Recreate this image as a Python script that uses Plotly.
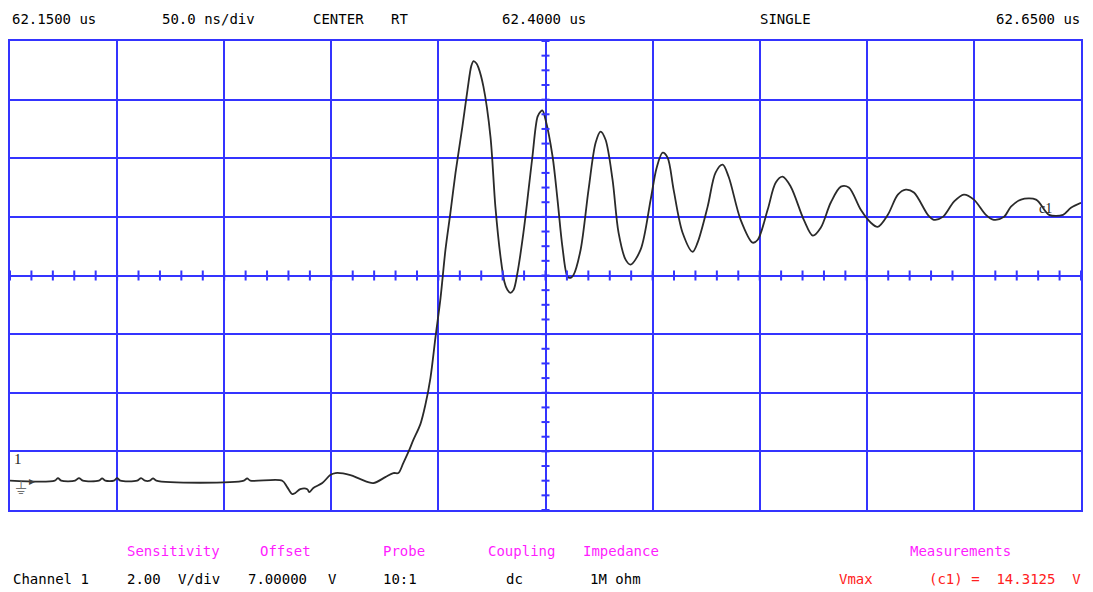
import plotly.graph_objects as go

# Acquisition settings
start_us = 62.15          # left edge of the record
ns_per_div = 50.0
n_xdiv = 10
volts_per_div = 2.0
offset_v = 7.0            # voltage at the centre graticule line
n_ydiv = 8

# Captured waveform, channel 1 (time in ns from the left edge, volts)
time_ns = [
    0.0, 20.9, 22.4, 23.9, 30.4, 32.2, 34.0, 41.5, 43.0, 44.5, 48.5, 50.0, 51.5,
    59.4, 61.2, 63.0, 65.3, 66.8, 68.3, 109.2, 110.7, 112.2, 127.1,
    129.4, 131.8, 133.2, 135.5, 138.8, 139.7, 141.6, 145.8, 149.5, 151.9, 158.9,
    163.6, 169.6, 175.2, 179.0, 181.3, 183.6, 186.0, 188.3, 191.6, 193.9, 196.3,
    198.6, 201.0, 203.3, 205.6, 208.0, 211.2, 213.6, 215.4, 216.4, 217.8, 218.7,
    221.0, 224.3, 226.6, 229.0, 230.8, 232.2, 233.6, 235.1, 236.9, 239.7, 242.1,
    243.9, 246.3, 247.7, 248.6, 250.0, 253.3, 255.6, 257.9, 260.3, 261.7, 263.1,
    266.4, 270.1, 273.4, 275.7, 278.0, 281.3, 284.1, 287.4, 289.7, 294.4, 299.1,
    301.9, 304.7, 307.0, 309.8, 314.0, 318.7, 321.0, 325.7, 329.4, 332.7, 335.5,
    341.1, 346.7, 349.1, 353.7, 357.5, 360.7, 364.5, 370.6, 374.8, 378.5, 383.2,
    387.9, 391.6, 397.2, 401.9, 405.1, 409.8, 414.5, 418.2, 422.0, 428.5, 431.3,
    435.5, 440.7, 445.3, 450.0, 455.6, 459.3, 464.0, 467.3, 472.0, 479.0, 485.1,
    491.6, 495.3, 500.0,
]
volts = [
    0.00, 0.00, 0.09, 0.00, 0.00, 0.09, 0.00, 0.00, 0.08, 0.00, 0.00, 0.09, 0.00,
    0.00, 0.09, 0.00, 0.00, 0.08, 0.00, 0.00, 0.08, 0.00, 0.00,
    -0.22, -0.46, -0.42, -0.29, -0.29, -0.39, -0.25, -0.08, 0.19, 0.26, 0.19,
    0.05, -0.08, 0.12, 0.26, 0.26, 0.60, 0.98, 1.39, 1.93, 2.58, 3.51,
    4.87, 6.24, 7.88, 9.14, 10.51, 12.08, 13.34, 14.16, 14.3125, 14.23, 14.09,
    13.45, 11.74, 9.35, 7.64, 6.79, 6.51, 6.41, 6.51, 7.09, 8.46, 9.93,
    11.06, 12.42, 12.59, 12.63, 12.32, 11.06, 9.59, 7.98, 6.96, 6.92, 7.02,
    7.88, 9.93, 11.53, 11.91, 11.64, 10.27, 8.46, 7.54, 7.37, 7.88, 9.59,
    10.68, 11.19, 11.02, 9.93, 8.46, 7.81, 8.12, 9.35, 10.51, 10.78, 10.37,
    8.90, 8.12, 8.22, 9.24, 10.17, 10.37, 10.03, 8.90, 8.36, 8.63, 9.49,
    10.03, 10.00, 9.24, 8.80, 8.66, 9.07, 9.76, 9.93, 9.83, 9.07, 8.90,
    9.00, 9.52, 9.76, 9.59, 9.07, 8.90, 9.00, 9.35, 9.59, 9.59, 9.07,
    9.07, 9.31, 9.48,
]

# Readout panel text
sens_text = ["2.00", "V/div"]
offset_text = ["7.00000", "V"]
probe_text = "10:1"
coupling_text = "dc"
impedance_text = "1M ohm"
vmax_value = max(volts)

t_span = ns_per_div * n_xdiv
v_min = offset_v - volts_per_div * n_ydiv / 2
v_max = offset_v + volts_per_div * n_ydiv / 2
t_center = t_span / 2

GRID = "#3434ff"
MONO = "DejaVu Sans Mono"
MAGENTA = "#ff1cff"
RED = "#ff2020"

fig = go.Figure()
fig.add_trace(go.Scatter(
    x=time_ns, y=volts, mode="lines",
    line=dict(color="#2a2a2a", width=1.8, shape="spline", smoothing=0.9),
    hoverinfo="skip", showlegend=False,
))

# Minor ticks on the centre cross-hair
shapes = []
t = 0.0
while t <= t_span + 1e-9:
    shapes.append(dict(type="line", xref="x", yref="y", ysizemode="pixel",
                       yanchor=offset_v, x0=t, x1=t, y0=-5, y1=5,
                       line=dict(color=GRID, width=2)))
    t += ns_per_div / 5
v = v_min
while v <= v_max + 1e-9:
    shapes.append(dict(type="line", xref="x", yref="y", xsizemode="pixel",
                       xanchor=t_center, y0=v, y1=v, x0=-4, x1=4,
                       line=dict(color=GRID, width=2)))
    v += volts_per_div / 4

PLOT_L, PLOT_W = 10, 1071


def px(xpix):
    return (xpix - PLOT_L) / PLOT_W


def label(text, xpix, ypix, color="#000000", anchor="left", size=14, family=MONO):
    return dict(text=text, xref="paper", yref="paper", x=px(xpix),
                y=(510 - ypix) / 469, xanchor=anchor, yanchor="middle",
                showarrow=False, font=dict(family=family, size=size, color=color))


def fmt_us(ns):
    return f"{start_us + ns / 1000:.4f} us"


ann = [
    label(fmt_us(0), 10, 19),
    label(f"{ns_per_div:.1f} ns/div", 160, 19),
    label("CENTER", 311, 19),
    label("RT", 389, 19),
    label(fmt_us(t_center), 500, 19),
    label("SINGLE", 758, 19),
    label(fmt_us(t_span), 1082, 19, anchor="right"),
    label("Sensitivity", 125, 551, MAGENTA),
    label("Offset", 258, 551, MAGENTA),
    label("Probe", 381, 551, MAGENTA),
    label("Coupling", 486, 551, MAGENTA),
    label("Impedance", 581, 551, MAGENTA),
    label("Measurements", 908, 551, MAGENTA),
    label("Channel 1", 11, 579),
    label(sens_text[0], 125, 579),
    label(sens_text[1], 176, 579),
    label(offset_text[0], 246, 579),
    label(offset_text[1], 326, 579),
    label(probe_text, 381, 579),
    label(coupling_text, 504, 579),
    label(impedance_text, 588, 579),
    label("Vmax", 837, 579, RED),
    label(f"(c1) =  {vmax_value:.4f}  V", 1083, 579, RED, anchor="right"),
    # channel marker and ground reference
    label("1", 12, 459, "#202020", size=15, family="Liberation Serif"),
    dict(text="⏚", xref="paper", yref="paper", x=px(13), y=(510 - 488) / 469,
         xanchor="left", yanchor="middle", showarrow=False,
         font=dict(family="DejaVu Sans", size=17, color="#707070")),
    dict(text="▸", xref="paper", yref="y", x=px(27), y=0.0, xanchor="left",
         yanchor="middle", showarrow=False,
         font=dict(family="DejaVu Sans", size=12, color="#404040")),
    # cursor marker on the trace
    dict(text="c1", xref="x", yref="y", x=483.5, y=9.3, xanchor="center",
         yanchor="middle", showarrow=False,
         font=dict(family="Liberation Serif", size=14, color="#202020")),
]

axis_common = dict(showgrid=True, gridcolor=GRID, gridwidth=2, showline=True,
                   linecolor=GRID, linewidth=2, mirror=True, zeroline=False,
                   showticklabels=False, ticks="", fixedrange=True)

fig.update_layout(
    width=1093, height=592,
    margin=dict(l=PLOT_L, r=1093 - PLOT_L - PLOT_W, t=41, b=82),
    paper_bgcolor="white", plot_bgcolor="white",
    xaxis=dict(range=[0, t_span], tick0=0, dtick=ns_per_div, **axis_common),
    yaxis=dict(range=[v_min, v_max], tick0=v_min, dtick=volts_per_div, **axis_common),
    shapes=shapes, annotations=ann, showlegend=False,
)

fig.write_html("out.html")
